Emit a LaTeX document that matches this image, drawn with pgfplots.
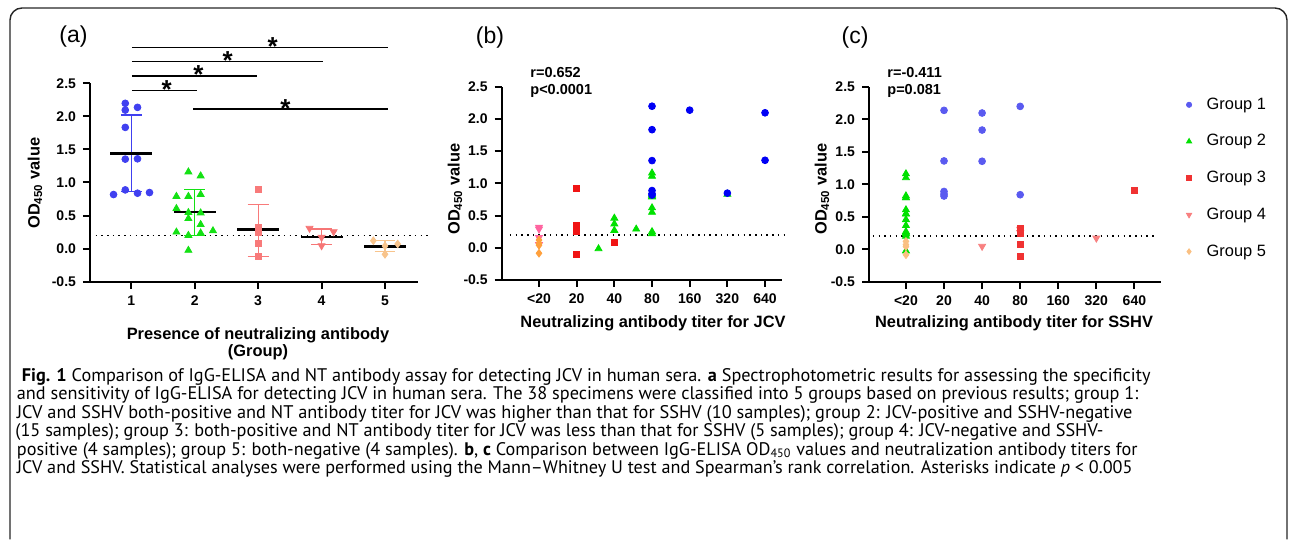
\documentclass[border=0pt]{standalone}
\usepackage{fontspec}
\setmainfont{Liberation Sans}
\newfontfamily\capfont{PT Sans}
\usepackage{graphicx}
\usepackage{pgfplots}
\pgfplotsset{compat=1.18}

\definecolor{aBlue}{RGB}{64,64,240}
\definecolor{aGreen}{RGB}{20,225,20}
\definecolor{aRed}{RGB}{248,122,122}
\definecolor{aPink}{RGB}{246,118,118}
\definecolor{aOrange}{RGB}{248,196,140}
\definecolor{bBlue}{RGB}{0,0,245}
\definecolor{bGreen}{RGB}{0,225,0}
\definecolor{bRed}{RGB}{240,20,20}
\definecolor{bPink}{RGB}{255,100,160}
\definecolor{bOrange}{RGB}{255,160,60}
\definecolor{cBlue}{RGB}{90,90,240}
\definecolor{cGreen}{RGB}{0,225,0}
\definecolor{cRed}{RGB}{240,50,50}
\definecolor{cPink}{RGB}{248,128,128}
\definecolor{cOrange}{RGB}{250,192,130}

\pgfplotsset{
  odpanel/.style={
    scale only axis, clip=false,
    axis lines=left, axis line style={-, line width=1.1pt},
    tick align=outside, major tick length=3.5pt,
    tick style={line width=1pt, black},
    ymin=-0.5, ymax=2.5, ytick={-0.5,0,0.5,1,1.5,2,2.5},
    yticklabels={-0.5,0.0,0.5,1.0,1.5,2.0,2.5},
    ticklabel style={font=\bfseries\fontsize{7}{8}\selectfont},
  },
  circ/.style={only marks, mark=*, mark size=1.7pt, color=#1},
  tri/.style={only marks, mark=triangle*, mark size=2pt, color=#1},
  sq/.style={only marks, mark=square*, mark size=1.5pt, color=#1},
  dtri/.style={only marks, mark=triangle*, mark size=2pt, mark options={rotate=180}, color=#1},
  dia/.style={only marks, mark=diamond*, mark size=1.9pt, color=#1},
  cutoff/.style={black, line width=0.75pt, dash pattern=on 0.75pt off 2.1pt},
  ebar/.style={color=#1, line width=0.6pt},
  meanline/.style={black, line width=1.2pt},
}

\begin{document}
\begin{tikzpicture}
\useasboundingbox (0,0) rectangle (646pt,270pt);

\begin{scope}[x=0.5pt, y=-0.5pt, yshift=270pt]
\draw[line width=0.7pt, rounded corners=6pt, black!85] (10,539.5) -- (10,8) -- (1287,8) -- (1287,539.5);
\end{scope}

% (a) OD450 by group
\begin{axis}[odpanel, at={(45pt,129.15pt)}, anchor=south west, width=164pt, height=99.2pt,
  xmin=0.35, xmax=5.52, xtick={1,2,3,4,5}, xticklabels={1,2,3,4,5}]
\addplot[cutoff] coordinates {(0.35,0.2) (5.74,0.2)};
\addplot[circ=aBlue] coordinates {(0.906,2.197) (0.906,2.095) (1.099,2.136) (0.906,1.833) (0.906,1.353) (1.099,1.358) (0.721,0.818) (0.906,0.888) (1.099,0.838) (1.288,0.848)};
\addplot[ebar=aBlue] coordinates {(1,0.858) (1,2.02)};
\addplot[ebar=aBlue] coordinates {(0.835,2.02) (1.165,2.02)};
\addplot[ebar=aBlue] coordinates {(0.835,0.858) (1.165,0.858)};
\addplot[meanline] coordinates {(0.67,1.436) (1.33,1.436)};
\addplot[tri=aGreen] coordinates {(1.901,1.16) (2.094,1.10) (1.712,0.79) (1.901,0.79) (2.094,0.82) (1.712,0.606) (1.901,0.545) (2.094,0.54) (1.901,0.455) (2.094,0.364) (1.712,0.25) (1.901,0.2) (2.094,0.236) (2.288,0.27) (1.901,-0.026)};
\addplot[ebar=aGreen] coordinates {(2,0.2) (2,0.894)};
\addplot[ebar=aGreen] coordinates {(1.835,0.894) (2.165,0.894)};
\addplot[ebar=aGreen] coordinates {(1.835,0.2) (2.165,0.2)};
\addplot[meanline] coordinates {(1.67,0.55) (2.33,0.55)};
\addplot[sq=aRed] coordinates {(3,0.898) (3,0.327) (3,0.25) (3,0.076) (3,-0.11)};
\addplot[ebar=aRed] coordinates {(3,-0.12) (3,0.67)};
\addplot[ebar=aRed] coordinates {(2.835,0.67) (3.165,0.67)};
\addplot[ebar=aRed] coordinates {(2.835,-0.12) (3.165,-0.12)};
\addplot[meanline] coordinates {(2.67,0.29) (3.33,0.29)};
\addplot[dtri=aPink] coordinates {(3.81,0.307) (4.19,0.256) (4,0.17) (4,0.044)};
\addplot[ebar=aPink] coordinates {(4,0.065) (4,0.297)};
\addplot[ebar=aPink] coordinates {(3.835,0.297) (4.165,0.297)};
\addplot[ebar=aPink] coordinates {(3.835,0.065) (4.165,0.065)};
\addplot[meanline] coordinates {(3.67,0.18) (4.33,0.18)};
\addplot[dia=aOrange] coordinates {(4.816,0.12) (5.2,0.07) (5,0.04) (5,-0.086)};
\addplot[ebar=aOrange] coordinates {(5,-0.047) (5,0.12)};
\addplot[ebar=aOrange] coordinates {(4.835,0.12) (5.165,0.12)};
\addplot[ebar=aOrange] coordinates {(4.835,-0.047) (5.165,-0.047)};
\addplot[meanline] coordinates {(4.67,0.035) (5.33,0.035)};
% significance brackets
\draw[line width=0.6pt] (axis cs:1.011,3.045) -- (axis cs:5.04,3.045);
\draw[line width=0.6pt] (axis cs:1.011,2.83) -- (axis cs:4.03,2.83);
\draw[line width=0.6pt] (axis cs:1.011,2.61) -- (axis cs:2.99,2.61);
\draw[line width=0.6pt] (axis cs:1.011,2.39) -- (axis cs:2.03,2.39);
\draw[line width=0.6pt] (axis cs:1.98,2.11) -- (axis cs:5.04,2.11);
\begin{scope}[every node/.style={anchor=base, inner sep=0pt, font=\bfseries\fontsize{13}{13}\selectfont}]
\node at (axis cs:3.23,2.925) {*};
\node at (axis cs:2.52,2.71) {*};
\node at (axis cs:2.06,2.49) {*};
\node at (axis cs:1.56,2.27) {*};
\node at (axis cs:3.43,1.99) {*};
\end{scope}
\end{axis}

% (b) JCV titer
\begin{axis}[odpanel, at={(250.85pt,130pt)}, anchor=south west, width=140.15pt, height=96.65pt,
  xmin=-0.99, xmax=6.45, xtick={0,1,2,3,4,5,6}, xticklabels={<20,20,40,80,160,320,640}]
\addplot[cutoff] coordinates {(-0.77,0.2) (6.58,0.2)};
\addplot[dtri=bPink] coordinates {(0,0.32) (0,0.29) (0,0.16) (0,0.05)};
\addplot[dia=bOrange] coordinates {(0,0.12) (0,0.07) (0,0.04) (0,-0.085)};
\addplot[sq=bRed] coordinates {(1,0.92) (1,0.34) (1,0.25) (1,-0.11) (2,0.085)};
\addplot[tri=bGreen] coordinates {(3,1.16) (3,1.11) (3,0.82) (3,0.8) (3,0.79) (3,0.62) (3,0.55) (3,0.25) (3,0.22) (5,0.83) (2,0.46) (2,0.37) (2,0.27) (2.58,0.29) (1.58,-0.015)};
\addplot[circ=bBlue] coordinates {(3,2.197) (3,1.833) (3,1.353) (3,0.888) (3,0.838) (3,0.818) (4,2.136) (5,0.848) (6,2.095) (6,1.358)};
\end{axis}

% (c) SSHV titer
\begin{axis}[odpanel, at={(434.5pt,129.15pt)}, anchor=south west, width=145.85pt, height=97.5pt,
  xmin=-0.97, xmax=6.69, xtick={0,1,2,3,4,5,6}, xticklabels={<20,20,40,80,160,320,640},
  legend style={at={(1.087,0.958)}, anchor=north west, draw=none, fill=none, inner sep=0pt,
    row sep=8.85pt, font=\fontsize{8.2}{9}\selectfont,
    nodes={inner sep=1pt, text height=6pt, text depth=1.5pt},
    /tikz/every odd column/.append style={column sep=6.5pt}},
  legend cell align=left]
\addlegendimage{only marks, mark=*, mark size=1.3pt, cBlue}
\addlegendentry{Group 1}
\addlegendimage{only marks, mark=triangle*, mark size=1.5pt, cGreen}
\addlegendentry{Group 2}
\addlegendimage{only marks, mark=square*, mark size=1.15pt, cRed}
\addlegendentry{Group 3}
\addlegendimage{only marks, mark=triangle*, mark size=1.5pt, mark options={rotate=180}, cPink}
\addlegendentry{Group 4}
\addlegendimage{only marks, mark=diamond*, mark size=1.4pt, cOrange}
\addlegendentry{Group 5}
\addplot[cutoff, forget plot] coordinates {(-0.87,0.2) (6.59,0.2)};
\addplot[tri=cGreen, forget plot] coordinates {(0,1.16) (0,1.10) (0,0.82) (0,0.79) (0,0.79) (0,0.606) (0,0.545) (0,0.54) (0,0.455) (0,0.364) (0,0.27) (0,0.25) (0,0.236) (0,0.2) (0,-0.026)};
\addplot[dia=cOrange, forget plot] coordinates {(0,0.12) (0,0.07) (0,0.04) (0,-0.086)};
\addplot[dtri=cPink, forget plot] coordinates {(2,0.044) (5,0.17) (3,0.307) (3,0.256)};
\addplot[sq=cRed, forget plot] coordinates {(3,0.327) (3,0.25) (3,0.076) (3,-0.11) (6,0.91)};
\addplot[circ=cBlue, forget plot] coordinates {(1,2.136) (1,1.358) (1,0.888) (1,0.848) (1,0.818) (2,2.095) (2,1.833) (2,1.353) (3,2.197) (3,0.838)};
\end{axis}

\begin{scope}[x=0.5pt, y=-0.5pt, yshift=270pt]
% panel letters
\node[font=\fontsize{11.5}{12}\selectfont] at (73.5,37) {(a)};
\node[font=\fontsize{11.5}{12}\selectfont] at (490,38) {(b)};
\node[font=\fontsize{11.5}{12}\selectfont] at (855,38) {(c)};
% correlations
\begin{scope}[every node/.style={anchor=base west, inner sep=0pt, font=\bfseries\fontsize{7.25}{8}\selectfont}]
\node at (530,77.7) {r=0.652};
\node at (530,94.3) {p<0.0001};
\node at (887,77.7) {r=-0.411};
\node at (887,94.3) {p=0.081};
\end{scope}
% axis titles
\begin{scope}[every node/.style={inner sep=0pt, font=\bfseries\fontsize{8.2}{9}\selectfont}]
\node[rotate=90] at (35,183) {OD\textsubscript{450} value};
\node[rotate=90] at (455,189) {OD\textsubscript{450} value};
\node[rotate=90] at (822,189) {OD\textsubscript{450} value};
\node[anchor=base] at (258,339.5) {Presence of neutralizing antibody};
\node[anchor=base] at (258,357) {(Group)};
\node[anchor=base] at (653,328) {Neutralizing antibody titer for JCV};
\node[anchor=base] at (1014,328) {Neutralizing antibody titer for SSHV};
\end{scope}
% caption
\begin{scope}[every node/.style={anchor=base west, inner sep=0pt}]
\node at (21.5,381.5) {\resizebox{564.25pt}{!}{\capfont\fontsize{9}{11}\selectfont\textbf{Fig. 1} Comparison of IgG-ELISA and NT antibody assay for detecting JCV in human sera. \textbf{a} Spectrophotometric results for assessing the specificity}};
\node at (16.5,399.9) {\resizebox{560.75pt}{!}{\capfont\fontsize{9}{11}\selectfont and sensitivity of IgG-ELISA for detecting JCV in human sera. The 38 specimens were classified into 5 groups based on previous results; group 1:}};
\node at (16.5,418.3) {\resizebox{557.75pt}{!}{\capfont\fontsize{9}{11}\selectfont JCV and SSHV both-positive and NT antibody titer for JCV was higher than that for SSHV (10 samples); group 2: JCV-positive and SSHV-negative}};
\node at (15,436.7) {\resizebox{544pt}{!}{\capfont\fontsize{9}{11}\selectfont (15 samples); group 3: both-positive and NT antibody titer for JCV was less than that for SSHV (5 samples); group 4: JCV-negative and SSHV-}};
\node at (16.5,455.1) {\resizebox{560.25pt}{!}{\capfont\fontsize{9}{11}\selectfont positive (4 samples); group 5: both-negative (4 samples). \textbf{b}, \textbf{c} Comparison between IgG-ELISA OD\textsubscript{450} values and neutralization antibody titers for}};
\node at (16.5,473.5) {\resizebox{557.75pt}{!}{\capfont\fontsize{9}{11}\selectfont JCV and SSHV. Statistical analyses were performed using the Mann–Whitney U test and Spearman’s rank correlation. Asterisks indicate \textit{p} < 0.005}};
\end{scope}
\end{scope}
\end{tikzpicture}
\end{document}
